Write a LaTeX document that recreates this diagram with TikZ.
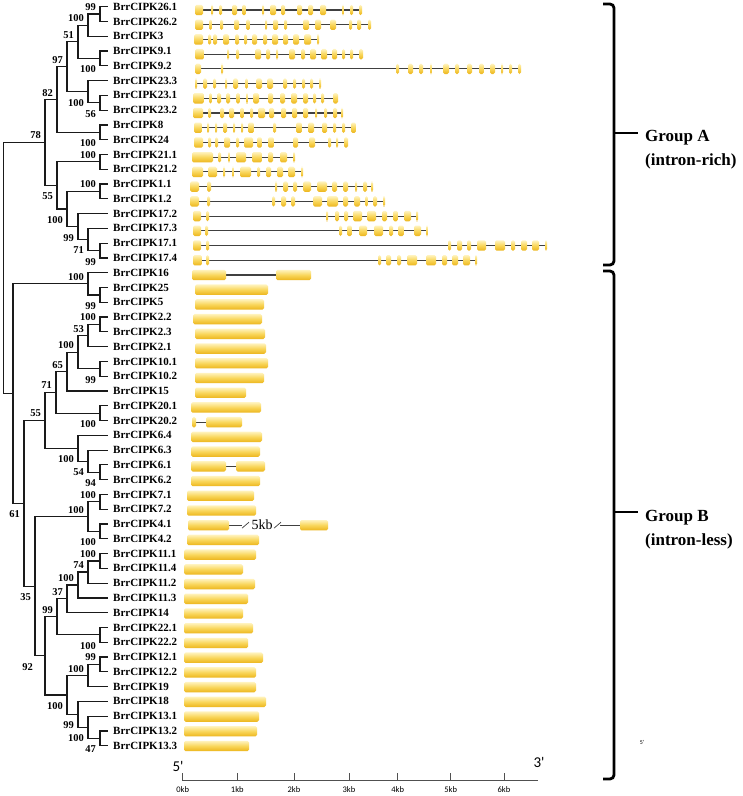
\documentclass[tikz,border=0pt]{standalone}
\usepackage{fontspec}
\setmainfont{Liberation Serif}
\newfontfamily\axfont{Carlito}
\definecolor{exTop}{HTML}{FFF3BE}
\definecolor{exMid}{HTML}{F9D65A}
\definecolor{exBot}{HTML}{ECB51C}
\definecolor{intr}{HTML}{404040}
\definecolor{treec}{HTML}{1A1A1A}
\definecolor{axc}{HTML}{505050}
\tikzset{
  br/.style={draw=treec, line width=1.2pt},
  leaf/.style={anchor=west, inner sep=0pt, font=\bfseries\fontsize{11}{12}\selectfont},
  bsl/.style={anchor=base east, inner sep=0pt, font=\bfseries\fontsize{10.5}{12}\selectfont},
  intron/.style={draw=intr, line width=1.1pt},
  exon/.style={top color=exTop, bottom color=exBot, middle color=exMid, rounded corners=1.6pt},
  brk/.style={draw=black, line width=2.8pt, rounded corners=4pt},
  grp/.style={anchor=base west, inner sep=0pt, font=\bfseries\fontsize{17}{20}\selectfont},
  axl/.style={inner sep=0pt, font=\axfont\fontsize{8.5}{9}\selectfont},
  prime/.style={inner sep=0pt, font=\axfont\fontsize{15}{16}\selectfont},
}
\newcommand\RY[1]{6.7+14.78*(#1)}
\newcommand\GY[1]{10+14.72*(#1)}
\newcommand\gene[4]{%
  \draw[intron] (#2,{\GY{#1}}) -- (#3,{\GY{#1}});
  \foreach \ea/\eb in {#4} {\shade[exon] (\ea,{\GY{#1}-5.2}) rectangle (\eb,{\GY{#1}+5.2});}
}
\begin{document}
\begin{tikzpicture}[x=1pt,y=-1pt]
\useasboundingbox (0,0) rectangle (743,796);
\fill[white] (0,0) rectangle (743,796);

% leaves
\foreach \i/\n in {0/26.1,1/26.2,2/3,3/9.1,4/9.2,5/23.3,6/23.1,7/23.2,8/8,9/24,10/21.1,11/21.2,12/1.1,13/1.2,14/17.2,15/17.3,16/17.1,17/17.4,
 18/16,19/25,20/5,21/2.2,22/2.3,23/2.1,24/10.1,25/10.2,26/15,27/20.1,28/20.2,29/6.4,30/6.3,31/6.1,32/6.2,33/7.1,34/7.2,35/4.1,36/4.2,
 37/11.1,38/11.4,39/11.2,40/11.3,41/14,42/22.1,43/22.2,44/12.1,45/12.2,46/19,47/18,48/13.1,49/13.2,50/13.3}{
  \coordinate (l\i) at (108,{\RY{\i}});
  \node[leaf] (t\i) at (113,{\RY{\i}}) {BrrCIPK\n};
}

% internal nodes
\foreach \n/\x/\i in {a1/100/0.5,a2/88/1.25,a3/100/3.5,a4/78/2.375,a5/100/6.5,a6/88/5.75,a7/67/4.0625,a8/100/8.5,a9/57/6.28125,
 a10/100/10.5,a11/100/12.5,a12/100/16.5,a13/88/15.75,a14/78/14.875,a15/67/13.6875,a16/57/12.09375,a17/45/9.1875,
 b1/100/19.5,b2/88/18.75,b3/100/21.5,b4/88/22.25,b5/100/24.5,b6/78/23.375,b7/67/24.6875,b8/100/27.5,b9/56/26.09375,
 b10/100/31.5,b11/88/30.75,b12/78/29.875,b13/45/27.984375,b14/100/33.5,b15/100/35.5,b16/88/34.5,
 b17/100/37.5,b18/88/38.25,b19/78/39.125,b20/67/40.0625,b21/100/42.5,b22/57/41.28125,b23/100/44.5,b24/88/45.25,
 b25/100/49.5,b26/88/48.75,b27/78/47.875,b28/67/46.5625,b29/45/43.921875,b30/35/39.2109375,b31/24/33.59765625,
 b32/13/26.173828125,root/3.3/17.6806640625}{
  \coordinate (\n) at (\x,{\RY{\i}});
}

% branches
\foreach \p/\c in {a1/l0,a1/l1,a2/a1,a2/l2,a3/l3,a3/l4,a4/a2,a4/a3,a5/l6,a5/l7,a6/l5,a6/a5,a7/a4,a7/a6,a8/l8,a8/l9,a9/a7,a9/a8,
 a10/l10,a10/l11,a11/l12,a11/l13,a12/l16,a12/l17,a13/l15,a13/a12,a14/l14,a14/a13,a15/a11,a15/a14,a16/a10,a16/a15,a17/a9,a17/a16,
 b1/l19,b1/l20,b2/l18,b2/b1,b3/l21,b3/l22,b4/b3,b4/l23,b5/l24,b5/l25,b6/b4,b6/b5,b7/b6,b7/l26,b8/l27,b8/l28,b9/b7,b9/b8,
 b10/l31,b10/l32,b11/l30,b11/b10,b12/l29,b12/b11,b13/b9,b13/b12,b14/l33,b14/l34,b15/l35,b15/l36,b16/b14,b16/b15,
 b17/l37,b17/l38,b18/b17,b18/l39,b19/b18,b19/l40,b20/b19,b20/l41,b21/l42,b21/l43,b22/b20,b22/b21,b23/l44,b23/l45,b24/b23,b24/l46,
 b25/l49,b25/l50,b26/l48,b26/b25,b27/l47,b27/b26,b28/b24,b28/b27,b29/b22,b29/b28,b30/b16,b30/b29,b31/b13,b31/b30,b32/b2,b32/b31,
 root/a17,root/b32}{
  \draw[br] (\p) |- (\c);
}

% bootstrap values above
\foreach \n/\v in {a1/99,a2/100,a4/51,a7/97,a9/82,a10/100,a11/100,a17/78,b2/100,b3/100,b4/53,b6/100,b7/65,b9/71,b13/55,
 b14/100,b16/100,b17/100,b18/74,b19/100,b20/37,b22/99,b23/99,b24/100}{
  \node[bsl] (bs-\n) at ([xshift=-4pt,yshift=3.5pt]\n) {\v};
}
% bootstrap values below
\foreach \n/\v in {a3/100,a5/56,a6/100,a8/100,a12/99,a13/71,a14/99,a15/100,a16/55,b1/99,b5/99,b8/100,b10/94,b11/54,b12/100,
 b15/100,b21/100,b25/47,b26/100,b27/99,b28/100,b30/35,b31/61}{
  \node[bsl] (bs-\n) at ([xshift=-4pt,yshift=-14.5pt]\n) {\v};
}
\node[bsl] (bs-b29) at ([xshift=-12pt,yshift=-14.5pt]b29) {92};

% gene structures, group A
\gene{0}{195}{362}{195/203,211/213,219/222,232/237,242/246,262/264,270/276,281/285,297/302,308/313,320/326,342/344,350/353,359/362}
\gene{1}{195}{371}{195/203,209/212,220/223,234/239,246/250,265/267,273/278,284/287,303/309,315/321,330/336,349/352,357/361,368/371}
\gene{2}{194}{319}{194/203,208/211,213/217,223/229,235/239,244/247,252/257,263/267,272/278,283/288,293/299,304/311,317/319}
\gene{3}{195}{363}{195/204,227/229,236/239,255/261,266/270,276/278,289/295,301/305,310/316,321/327,332/337,342/345,350/353,359/363}
\gene{4}{195}{521}{195/201,221/223,396/399,408/413,419/423,430/432,443/449,455/459,467/472,479/484,490/495,501/503,509/512,518/521}
\gene{5}{195}{321}{195/197,203/207,213/216,225/227,233/238,245/248,256/262,267/273,283/287,293/296,302/305,310/313,319/321}
\gene{6}{193}{338}{193/204,209/212,217/221,226/230,236/240,246/248,253/259,268/273,280/285,291/297,303/308,313/316,321/324,333/338}
\gene{7}{193}{343}{193/203,208/211,220/224,229/234,240/244,250/253,258/265,269/274,281/286,292/297,303/308,315/317,324/327,333/337,341/343}
\gene{8}{194}{356}{194/202,207/209,215/217,223/227,233/235,241/243,248/254,273/276,296/302,308/314,322/327,333/336,342/345,351/356}
\gene{9}{194}{348}{194/203,208/211,215/218,224/230,236/239,244/253,257/262,268/274,293/298,309/315,328/331,336/338,344/348}
\gene{10}{192}{295}{192/213,218/221,228/230,236/246,252/262,268/273,280/287,293/295}
\gene{11}{192}{303}{192/203,208/217,223/225,232/234,240/251,257/260,266/271,277/283,288/295,301/303}
\gene{12}{190}{373}{190/199,207/211,275/277,283/288,293/297,303/311,317/327,332/337,343/348,355/357,363/367,371/373}
\gene{13}{190}{385}{190/199,207/210,272/275,281/286,291/295,313/322,327/338,343/348,354/360,365/368,373/377,383/385}
\gene{14}{193}{418}{193/201,206/209,326/328,335/339,344/348,353/362,367/376,382/387,393/398,404/411,416/418}
\gene{15}{193}{428}{193/201,205/208,339/342,347/352,359/367,374/383,389/393,398/404,414/421,426/428}
\gene{16}{193}{547}{193/201,206/209,448/451,457/462,467/471,477/486,495/505,511/515,521/527,532/539,545/547}
\gene{17}{193}{477}{193/202,206/209,378/381,386/391,397/401,407/417,426/436,442/447,452/458,463/470,475/477}
% group B
\gene{18}{192}{311}{192/226,276/311}
\gene{19}{195}{268}{195/268}
\gene{20}{195}{264}{195/264}
\gene{21}{193}{262}{193/262}
\gene{22}{195}{265}{195/265}
\gene{23}{195}{266}{195/266}
\gene{24}{195}{268}{195/268}
\gene{25}{195}{264}{195/264}
\gene{26}{195}{246}{195/246}
\gene{27}{191}{261}{191/261}
\gene{28}{192}{242}{192/196,206/242}
\gene{29}{191}{262}{191/262}
\gene{30}{191}{260}{191/260}
\gene{31}{191}{265}{191/226,236/265}
\gene{32}{191}{260}{191/260}
\gene{33}{187}{254}{187/254}
\gene{34}{187}{256}{187/256}
\draw[intron] (229,{\GY{35}}) -- (242,{\GY{35}});
\draw[intron] (280,{\GY{35}}) -- (300,{\GY{35}});
\draw[intr, line width=0.7pt] (242,{\GY{35}+3}) -- (249,{\GY{35}-3});
\draw[intr, line width=0.7pt] (274,{\GY{35}+3}) -- (281,{\GY{35}-3});
\node[inner sep=0pt, font=\fontsize{14}{15}\selectfont] (kb5) at (262,{\GY{35}}) {5kb};
\foreach \ea/\eb in {188/229,300/328}{\shade[exon] (\ea,{\GY{35}-5.2}) rectangle (\eb,{\GY{35}+5.2});}
\gene{36}{187}{259}{187/259}
\gene{37}{184}{256}{184/256}
\gene{38}{184}{243}{184/243}
\gene{39}{184}{255}{184/255}
\gene{40}{184}{248}{184/248}
\gene{41}{184}{243}{184/243}
\gene{42}{184}{253}{184/253}
\gene{43}{184}{248}{184/248}
\gene{44}{184}{263}{184/263}
\gene{45}{184}{256}{184/256}
\gene{46}{184}{256}{184/256}
\gene{47}{184}{266}{184/266}
\gene{48}{184}{259}{184/259}
\gene{49}{184}{257}{184/257}
\gene{50}{184}{249}{184/249}

% scale axis
\coordinate (ax0) at (182.7,780.7);
\coordinate (ax1) at (537.7,780.7);
\draw[axc, line width=1pt] (ax0) -- (ax1);
\foreach \k/\x in {0/182.7,1/237.3,2/294,3/349,4/397.7,5/450.7,6/504}{
  \coordinate (tk\k) at (\x,780.7);
  \draw[axc, line width=1pt] (tk\k) -- ++(0,-7.7);
  \node[axl] (tl\k) at (\x,790) {\k kb};
}
\node[prime] (p5) at (178,766) {5'};
\node[prime] (p3) at (539,762) {3'};
\node[inner sep=0pt, font=\axfont\fontsize{6}{7}\selectfont] (p5b) at (642,742) {5'};

% group brackets
\draw[brk] (603,4) -- (614,4) -- (614,265) -- (603,265);
\coordinate (gAm) at (614,133);
\draw[draw=black, line width=2.8pt] (gAm) -- ++(24,0);
\node[grp] (gA1) at (645,141.5) {Group A};
\node[grp] (gA2) at (645,165) {(intron-rich)};
\draw[brk] (603,271) -- (614,271) -- (614,779) -- (603,779);
\coordinate (gBm) at (614,512);
\draw[draw=black, line width=2.8pt] (gBm) -- ++(24,0);
\node[grp] (gB1) at (645,521.5) {Group B};
\node[grp] (gB2) at (645,545) {(intron-less)};
\end{tikzpicture}
\end{document}
